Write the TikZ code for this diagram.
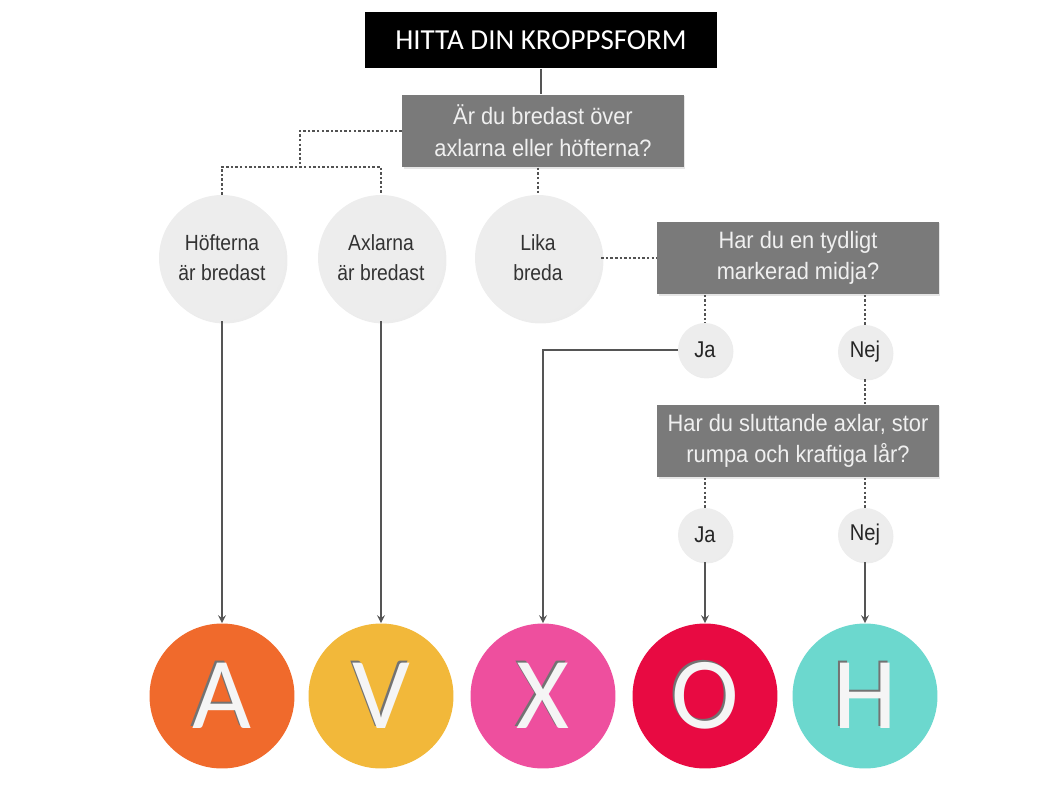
\documentclass[tikz,border=0pt]{standalone}
\usepackage{fontspec}
\setmainfont{Liberation Sans}
\newfontfamily\narrowfont[FakeStretch=0.88]{Liberation Sans}
\newfontfamily\boxfont[FakeStretch=0.92]{Liberation Sans}
\newfontfamily\titlefont{Carlito}
\usetikzlibrary{positioning}
\usetikzlibrary{shadows}
\definecolor{boxGray}{HTML}{7A7A7A}
\definecolor{optGray}{HTML}{EDEDED}
\definecolor{lineGray}{HTML}{555555}
\definecolor{typeOrange}{HTML}{F06A2C}
\definecolor{typeYellow}{HTML}{F2B83A}
\definecolor{typePink}{HTML}{EE4F9E}
\definecolor{typeRed}{HTML}{E80A42}
\definecolor{typeTeal}{HTML}{6CD8CE}
\tikzset{titleBox/.style={fill=black, text=white, minimum width=7.06cm, minimum height=1.14cm, font=\titlefont\fontsize{16.5}{20}\selectfont}}
\tikzset{qBox/.style={fill=boxGray, text=white!94!black, minimum width=5.64cm, minimum height=1.46cm, inner xsep=2pt, align=center, font=\boxfont\fontsize{13.5}{18}\selectfont, drop shadow={opacity=0.2, shadow xshift=0.03cm, shadow yshift=-0.03cm}}}
\tikzset{optCircle/.style={circle, fill=optGray, minimum size=2.52cm, inner sep=0pt, align=center, text=black!80, font=\narrowfont\fontsize{12.5}{17}\selectfont, drop shadow={opacity=0.15, shadow xshift=0.05cm, shadow yshift=-0.05cm}}}
\tikzset{ansCircle/.style={circle, fill=optGray, minimum size=1.08cm, inner sep=0pt, text=black!85, font=\narrowfont\fontsize{13}{15}\selectfont, drop shadow={opacity=0.15, shadow xshift=0.03cm, shadow yshift=-0.03cm}}}
\tikzset{typeCircle/.style={circle, minimum size=2.9cm, inner sep=0pt}}
\tikzset{typeLetter/.style={inner sep=0pt, text=white!96!black, font=\titlefont\fontsize{58}{60}\selectfont}}
\tikzset{typeShade/.style={typeLetter, text=black!55}}
\tikzset{dotLine/.style={dash pattern=on 1.4pt off 1.2pt, line width=1.4pt, draw=black!68}}
\tikzset{solidLine/.style={line width=1pt, draw=lineGray}}

\begin{document}
\begin{tikzpicture}[x=0.02cm, y=-0.02cm, >=stealth]

\useasboundingbox (0,0) rectangle (1058,794);

\node[titleBox] (title) at (541, 40) {HITTA DIN KROPPSFORM};

\node[qBox] (q1) at (543, 131) {Är du bredast över\\axlarna eller höfterna?};
\node[qBox] (q2) at (798, 258) {Har du en tydligt\\markerad midja?};
\node[qBox] (q3) at (798, 441) {Har du sluttande axlar, stor\\rumpa och kraftiga lår?};

\node[optCircle] (hips) at (222, 258) {Höfterna\\är bredast};
\node[optCircle] (shoulders) at (381, 258) {Axlarna\\är bredast};
\node[optCircle] (equal) at (538, 258) {Lika\\breda};

\node[ansCircle] (ja1) at (705, 350) {Ja};
\node[ansCircle] (nej1) at (865, 352) {Nej};
\node[ansCircle] (ja2) at (705, 535) {Ja};
\node[ansCircle] (nej2) at (865, 535) {Nej};

\node[typeCircle, fill=typeOrange] (typeA) at (222, 696) {};
\node[typeCircle, fill=typeYellow] (typeV) at (381, 696) {};
\node[typeCircle, fill=typePink] (typeX) at (543, 696) {};
\node[typeCircle, fill=typeRed] (typeO) at (705, 696) {};
\node[typeCircle, fill=typeTeal] (typeH) at (865, 696) {};

\node[typeShade] (shadeA) at ([shift={(-0.04cm,0.04cm)}]typeA) {A};
\node[typeShade] (shadeV) at ([shift={(-0.04cm,0.04cm)}]typeV) {V};
\node[typeShade] (shadeX) at ([shift={(-0.04cm,0.04cm)}]typeX) {X};
\node[typeShade] (shadeO) at ([shift={(-0.04cm,0.04cm)}]typeO) {O};
\node[typeShade] (shadeH) at ([shift={(-0.04cm,0.04cm)}]typeH) {H};
\node[typeLetter] (letterA) at (typeA) {A};
\node[typeLetter] (letterV) at (typeV) {V};
\node[typeLetter] (letterX) at (typeX) {X};
\node[typeLetter] (letterO) at (typeO) {O};
\node[typeLetter] (letterH) at (typeH) {H};

\coordinate (fork) at (300, 167);

\draw[solidLine] (title.south) -- (title.south |- q1.north);

\draw[dotLine] (q1.west) -| (fork);
\draw[dotLine] (hips.north) |- (fork) -| (shoulders.north);
\draw[dotLine] (equal.north |- q1.south) -- (equal.north);
\draw[dotLine] (equal.east) -- (q2.west);
\draw[dotLine] (ja1.north |- q2.south) -- (ja1.north);
\draw[dotLine] (nej1.north |- q2.south) -- (nej1.north);
\draw[dotLine] (nej1.south) -- (nej1.south |- q3.north);
\draw[dotLine] (ja2.north |- q3.south) -- (ja2.north);
\draw[dotLine] (nej2.north |- q3.south) -- (nej2.north);

\draw[solidLine, ->] (hips.south) -- (typeA.north);
\draw[solidLine, ->] (shoulders.south) -- (typeV.north);
\draw[solidLine, ->] (ja1.west) -| (typeX.north);
\draw[solidLine, ->] (ja2.south) -- (typeO.north);
\draw[solidLine, ->] (nej2.south) -- (typeH.north);

\end{tikzpicture}
\end{document}
